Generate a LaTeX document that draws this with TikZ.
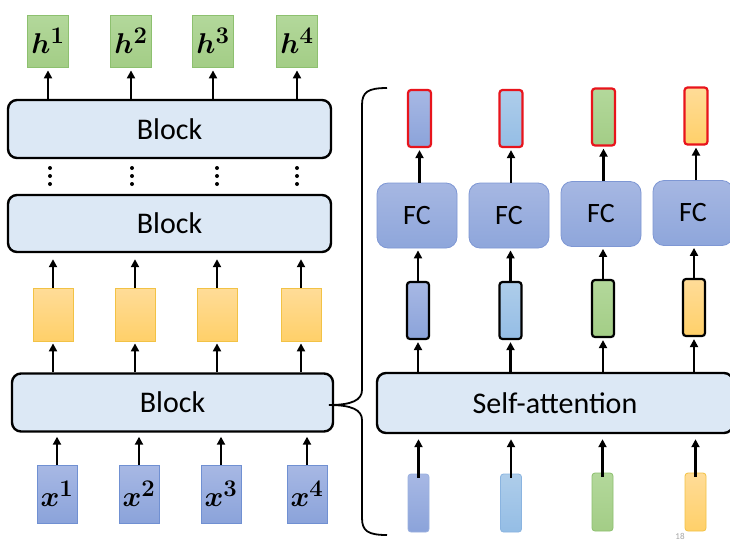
\documentclass[tikz,border=0pt]{standalone}
\usepackage{fontspec}
\setmainfont{Carlito}
\usepackage{bm}
\usetikzlibrary{arrows.meta}
\newcommand{\bigmath}[1]{\scalebox{1.15}{$#1$}}
\definecolor{blkfill}{HTML}{DCE8F5}
\definecolor{gtop}{HTML}{B3D89B}
\definecolor{gbot}{HTML}{A3CD86}
\definecolor{gline}{HTML}{8DC06F}
\definecolor{ytop}{HTML}{FFDC98}
\definecolor{ybot}{HTML}{FFD069}
\definecolor{yline}{HTML}{F2C245}
\definecolor{btop}{HTML}{A7B8E4}
\definecolor{bbot}{HTML}{8BA3DA}
\definecolor{bline}{HTML}{7090D2}
\definecolor{ltop}{HTML}{AECDEA}
\definecolor{lbot}{HTML}{94BDE5}
\definecolor{lline}{HTML}{8AB4E0}
\definecolor{fctop}{HTML}{A6B7E2}
\definecolor{fcbot}{HTML}{8EA6DB}
\definecolor{fcline}{HTML}{7E97D4}
\definecolor{redline}{HTML}{E8141C}
\tikzset{
  blk/.style={draw=black, line width=2.4pt, rounded corners=9pt, fill=blkfill, inner sep=0pt, font=\fontsize{30}{32}\selectfont},
  hbox/.style={draw=gline, line width=0.8pt, top color=gtop, bottom color=gbot, minimum width=41pt, minimum height=52pt, inner sep=0pt, font=\fontsize{24.88}{28}\selectfont},
  ybox/.style={draw=yline, line width=0.8pt, top color=ytop, bottom color=ybot, minimum width=40pt, minimum height=53pt, inner sep=0pt},
  xbox/.style={draw=bline, line width=0.8pt, top color=btop, bottom color=bbot, minimum width=40pt, minimum height=58pt, inner sep=0pt, font=\fontsize{24.88}{28}\selectfont},
  fcbox/.style={draw=fcline, line width=0.8pt, top color=fctop, bottom color=fcbot, rounded corners=11pt, minimum width=80pt, minimum height=65pt, inner sep=0pt, font=\fontsize{28}{30}\selectfont},
  vec/.style={rounded corners=3pt, minimum width=22pt, minimum height=57pt, inner sep=0pt},
  vblue/.style={top color=btop, bottom color=bbot},
  vlight/.style={top color=ltop, bottom color=lbot},
  vgreen/.style={top color=gtop, bottom color=gbot},
  vyellow/.style={top color=ytop, bottom color=ybot},
  redvec/.style={vec, draw=redline, line width=2.2pt},
  blackvec/.style={vec, draw=black, line width=2.2pt},
  invec/.style={vec, line width=0.8pt},
  arr/.style={-{Triangle[length=8pt,width=8pt]}, line width=2.3pt},
  dot/.style={circle, fill=black, inner sep=0pt, minimum size=4pt},
}
\begin{document}
\begin{tikzpicture}[x=1pt,y=-1pt]
\useasboundingbox (0,0) rectangle (730,542);
\clip (0,0) rectangle (730,542);
\fill[white] (0,0) rectangle (730,542);

% ---------- left column ----------
\node[hbox] (h1) at (48,41) {\bigmath{\bm{h}^{\bm{1}}}};
\node[hbox] (h2) at (131,41) {\bigmath{\bm{h}^{\bm{2}}}};
\node[hbox] (h3) at (213,41) {\bigmath{\bm{h}^{\bm{3}}}};
\node[hbox] (h4) at (297,41) {\bigmath{\bm{h}^{\bm{4}}}};

\node[blk, minimum width=323pt, minimum height=58pt] (btop) at (169.5,129) {Block};

\foreach \i/\x in {1/50,2/132,3/217,4/297}{
  \node[dot] (da\i) at (\x,168) {};
  \node[dot] (db\i) at (\x,176) {};
  \node[dot] (dc\i) at (\x,184) {};
}

\node[blk, minimum width=323pt, minimum height=57pt] (bmid) at (169.5,223.5) {Block};

\node[ybox] (y1) at (53,314.5) {};
\node[ybox] (y2) at (135,314.5) {};
\node[ybox] (y3) at (217,314.5) {};
\node[ybox] (y4) at (301,314.5) {};

\node[blk, minimum width=321pt, minimum height=58pt] (bbot) at (172.5,402.5) {Block};

\node[xbox] (x1) at (57,494) {\bigmath{\bm{x}^{\bm{1}}}};
\node[xbox] (x2) at (139,494) {\bigmath{\bm{x}^{\bm{2}}}};
\node[xbox] (x3) at (221,494) {\bigmath{\bm{x}^{\bm{3}}}};
\node[xbox] (x4) at (307,494) {\bigmath{\bm{x}^{\bm{4}}}};

\foreach \i in {1,2,3,4}{
  \draw[arr] (h\i.south |- btop.north) -- ([yshift=-3pt]h\i.south);
  \draw[arr] (y\i.north) -- ([yshift=-6pt]y\i.north |- bmid.south);
  \draw[arr] (y\i.south |- bbot.north) -- ([yshift=-2pt]y\i.south);
  \draw[arr] (x\i.north) -- ([yshift=-4pt]x\i.north |- bbot.south);
}

% ---------- brace ----------
\coordinate (bt) at (387,88);
\coordinate (bb) at (387,535);
\coordinate (tip) at (329,405);
\draw[line width=1.8pt] (bt) .. controls (368,88) and (362,92) .. (362,105)
  -- (362,390) .. controls (362,400) and (352,405) .. (tip)
  .. controls (352,405) and (362,410) .. (362,420)
  -- (362,518) .. controls (362,531) and (368,535) .. (bb);

% ---------- right column ----------
\node[redvec, vblue, minimum width=23pt] (r1) at (419.5,118.5) {};
\node[redvec, vlight, minimum width=23pt] (r2) at (511,118.5) {};
\node[redvec, vgreen, minimum width=23pt] (r3) at (603.5,117) {};
\node[redvec, vyellow, minimum width=23pt] (r4) at (696,116) {};

\node[fcbox] (f1) at (417,215.5) {FC};
\node[fcbox] (f2) at (509,215.5) {FC};
\node[fcbox] (f3) at (601,214) {FC};
\node[fcbox] (f4) at (693,213) {FC};

\node[blackvec, vblue] (m1) at (418,310.5) {};
\node[blackvec, vlight] (m2) at (510.5,310.5) {};
\node[blackvec, vgreen] (m3) at (603,308.5) {};
\node[blackvec, vyellow] (m4) at (694,307.5) {};

\node[blk, minimum width=356pt, minimum height=60pt] (sa) at (555,403) {Self-attention};

\node[invec, vblue, draw=bline!70, minimum width=21pt, minimum height=58pt] (i1) at (418.5,503) {};
\node[invec, vlight, draw=lline, minimum width=21pt, minimum height=58pt] (i2) at (511,503) {};
\node[invec, vgreen, draw=gline, minimum width=21pt, minimum height=58pt] (i3) at (602.5,502) {};
\node[invec, vyellow, draw=yline, minimum width=21pt, minimum height=58pt] (i4) at (695.5,502) {};

\foreach \i in {1,2,3,4}{
  \draw[arr] (f\i.north -| r\i.south) -- ([yshift=-2pt]r\i.south);
  \draw[arr] (m\i.north) -- ([yshift=-2pt]m\i.north |- f\i.south);
  \draw[arr] (m\i.south |- sa.north) -- ([yshift=-2pt]m\i.south);
  \draw[arr] ([yshift=-4pt]i\i.north) -- ([yshift=-5pt]i\i.north |- sa.south);
}

\node[text=black!35, font=\fontsize{9}{9}\selectfont, anchor=north, inner sep=0pt] (pg) at (680,533) {18};
\end{tikzpicture}
\end{document}
